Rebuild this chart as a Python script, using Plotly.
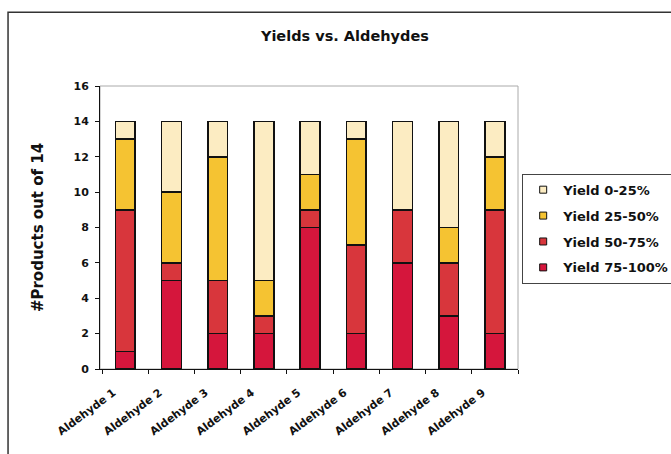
import plotly.graph_objects as go

aldehydes = ["Aldehyde 1", "Aldehyde 2", "Aldehyde 3", "Aldehyde 4", "Aldehyde 5",
             "Aldehyde 6", "Aldehyde 7", "Aldehyde 8", "Aldehyde 9"]

# number of products (out of 14) in each yield band, stacked bottom to top
yield_75_100 = [1, 5, 2, 2, 8, 2, 6, 3, 2]
yield_50_75 = [8, 1, 3, 1, 1, 5, 3, 3, 7]
yield_25_50 = [4, 4, 7, 2, 2, 6, 0, 2, 3]
yield_0_25 = [1, 4, 2, 9, 3, 1, 5, 6, 2]

series = [
    ("Yield 75-100%", yield_75_100, "#D5163C"),
    ("Yield 50-75%", yield_50_75, "#D8363C"),
    ("Yield 25-50%", yield_25_50, "#F5C332"),
    ("Yield 0-25%", yield_0_25, "#FCECC2"),
]

FONT = "DejaVu Sans, Verdana, sans-serif"
INK = "#111111"

fig = go.Figure()
for name, vals, color in series:
    fig.add_trace(go.Bar(
        x=aldehydes, y=vals, name=name, showlegend=False,
        marker=dict(color=color, line=dict(color=INK, width=1.5)),
    ))

# legend entries with small square keys, top band listed first
for name, vals, color in reversed(series):
    fig.add_trace(go.Scatter(
        x=[aldehydes[0]], y=[None], name=name, mode="markers",
        legendgroup=name,
        marker=dict(symbol="square", size=7, color=color,
                    line=dict(color=INK, width=1)),
    ))

fig.update_layout(
    width=671, height=454,
    margin=dict(l=100, r=153, t=86, b=85, autoexpand=False),
    barmode="stack",
    bargap=0.57,
    paper_bgcolor="white",
    plot_bgcolor="white",
    font=dict(family=FONT, color=INK, weight="bold"),
    title=dict(text="Yields vs. Aldehydes", x=0.514, xanchor="center",
               y=0.921, yanchor="middle",
               font=dict(size=14.5, family=FONT, weight="bold")),
    legend=dict(
        x=1.01, xanchor="left", y=0.69, yanchor="top",
        traceorder="grouped", tracegroupgap=6,
        bordercolor="#444444", borderwidth=1,
        font=dict(size=13, family=FONT, weight="bold"),
        itemwidth=30,
    ),
    showlegend=True,
)

fig.update_xaxes(
    type="category",
    showline=True, linecolor=INK, linewidth=1,
    ticks="outside", tickson="boundaries", ticklen=4, tickcolor=INK,
    tickangle=-37, tickfont=dict(size=11, family=FONT, weight="bold"),
    ticklabelstandoff=12, ticklabelshift=-12,
    showgrid=False,
)
fig.update_yaxes(
    range=[0, 16], dtick=2,
    showline=True, linecolor=INK, linewidth=1,
    ticks="outside", ticklen=4, tickcolor=INK,
    tickfont=dict(size=11, family=FONT, weight="bold"),
    ticklabelstandoff=4,
    showgrid=False, zeroline=False,
    title=dict(text="#Products out of 14", standoff=26,
               font=dict(size=15, family=FONT, weight="bold")),
)

# light plot-area border and outer chart frame
fig.add_shape(type="rect", xref="paper", yref="paper", x0=0, y0=0, x1=1, y1=1,
              line=dict(color="#AAAAAA", width=1), layer="below")
fig.add_shape(type="rect", xref="paper", yref="paper", x0=-0.22, y0=-0.6, x1=1.6, y1=1.261,
              line=dict(color="#333333", width=1.5), layer="below")

fig.write_html("out.html")
